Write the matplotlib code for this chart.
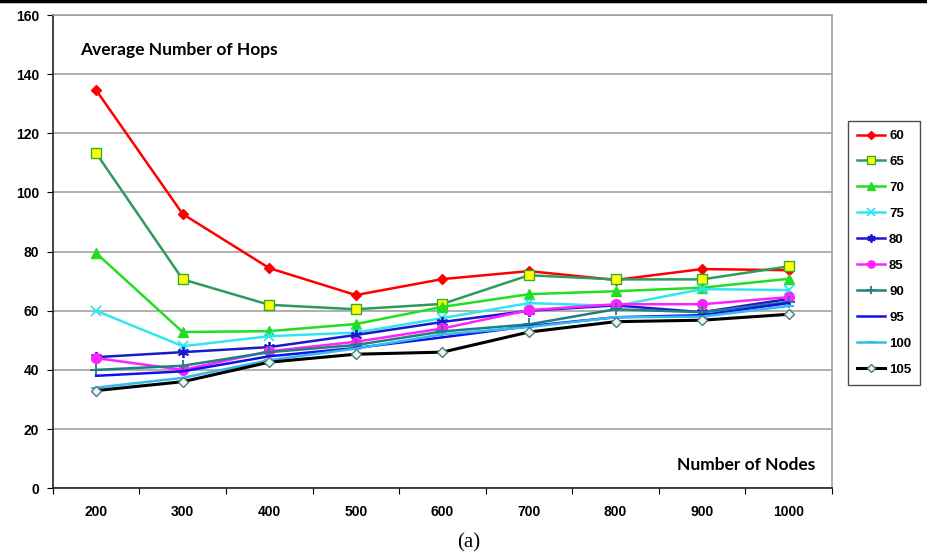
import matplotlib
matplotlib.use("Agg")
import matplotlib.pyplot as plt
from matplotlib.lines import Line2D

# number of nodes on the x axis
nodes = ["200", "300", "400", "500", "600", "700", "800", "900", "1000"]

# average hop count, one list per series
s60 = [134.6, 92.7, 74.4, 65.3, 70.7, 73.4, 70.4, 74.1, 73.7]
s65 = [113.3, 70.6, 62.0, 60.5, 62.3, 72.0, 70.6, 70.6, 75.0]
s70 = [79.5, 52.8, 53.1, 55.5, 61.3, 65.6, 66.6, 67.8, 70.8]
s75 = [60.0, 48.0, 51.4, 52.6, 57.5, 62.6, 61.6, 67.3, 67.0]
s80 = [44.3, 46.0, 47.7, 51.8, 56.2, 60.0, 61.8, 59.5, 64.0]
s85 = [44.0, 40.0, 46.3, 49.5, 54.0, 60.2, 62.2, 62.2, 64.6]
s90 = [40.0, 41.4, 46.0, 48.4, 53.0, 55.4, 60.5, 59.5, 63.0]
s95 = [38.0, 39.5, 44.6, 47.4, 51.0, 54.8, 57.8, 58.5, 62.6]
s100 = [34.0, 37.3, 43.3, 47.2, 52.0, 54.5, 57.8, 58.0, 61.6]
s105 = [33.0, 36.0, 42.6, 45.3, 46.0, 52.8, 56.3, 56.8, 58.8]

series = [
    ("60", s60, dict(color="#ff0000", marker="D", ms=5, mfc="#ff0000", mec="#ff0000")),
    ("65", s65, dict(color="#2e9a5c", marker="s", ms=7, mfc="#ffff00", mec="#33aa33")),
    ("70", s70, dict(color="#22dd22", marker="^", ms=7, mfc="#22dd22", mec="#22dd22")),
    ("75", s75, dict(color="#33e5f0", marker="x", ms=7, mew=1.3, mfc="#33e5f0", mec="#33e5f0")),
    ("80", s80, dict(color="#1a1acc", marker=(6, 2, 0), ms=8, mew=1.3, mec="#1a1acc")),
    ("85", s85, dict(color="#ff22ff", marker="o", ms=7, mfc="#ff22ff", mec="#ff22ff")),
    ("90", s90, dict(color="#1e8080", marker="+", ms=8, mew=1.3, mfc="#1e8080", mec="#1e8080")),
    ("95", s95, dict(color="#1010ee", marker="None")),
    ("100", s100, dict(color="#33bbee", marker="_", ms=7, mew=1.5, mec="#33bbee")),
    ("105", s105, dict(color="#000000", marker="D", ms=5, mfc="#e8f8f8", mec="#557777", lw=2.2)),
]

fig = plt.figure(figsize=(9.27, 5.56), dpi=100)
ax = fig.add_axes([0.057, 0.122, 0.8405, 0.851])

x = range(len(nodes))
handles = []
for name, vals, st in series:
    lw = st.pop("lw", 1.8)
    h, = ax.plot(x, vals, lw=lw, label=name, zorder=3, **st)
    handles.append(h)

ax.set_xlim(-0.5, len(nodes) - 0.5)
ax.set_ylim(0, 160)
ax.set_yticks(range(0, 161, 20))
ax.set_yticklabels([str(v) for v in range(0, 161, 20)],
                   fontfamily="Liberation Sans", fontweight="bold", fontsize=10)
# category labels in the middle, tick marks between the categories
ax.set_xticks([i + 0.5 for i in range(-1, len(nodes))])
ax.set_xticklabels([])
ax.set_xticks(list(x), minor=True)
ax.set_xticklabels(nodes, minor=True, fontfamily="Liberation Sans",
                   fontweight="bold", fontsize=10)
ax.tick_params(axis="x", which="minor", length=0, pad=12)
ax.tick_params(axis="x", which="major", length=4, direction="out")
ax.tick_params(axis="y", length=4, direction="out", pad=6)

ax.grid(axis="y", color="#9a9a9a", lw=1.1)
ax.set_axisbelow(True)
for side in ["top", "right"]:
    ax.spines[side].set_color("#9a9a9a")
    ax.spines[side].set_linewidth(1.1)
for side in ["left", "bottom"]:
    ax.spines[side].set_color("#222222")
    ax.spines[side].set_linewidth(1.2)

ax.text(0.035, 0.925, "Average Number of Hops", transform=ax.transAxes,
        fontfamily="Lato", fontweight="bold", fontsize=12.5, va="center")
ax.text(0.978, 0.048, "Number of Nodes", transform=ax.transAxes,
        fontfamily="Lato", fontweight="bold", fontsize=12.5, va="center", ha="right")

leg = fig.legend(handles=handles, loc="upper left", bbox_to_anchor=(0.915, 0.783),
                 frameon=True, fancybox=False, edgecolor="#222222",
                 prop=dict(family="Liberation Sans", weight="bold", size=9.5),
                 handlelength=2.1, handletextpad=0.3, labelspacing=1.04,
                 borderpad=0.7, borderaxespad=0, markerscale=0.75)
leg.get_frame().set_linewidth(1.0)

fig.text(0.506, 0.023, "(a)", fontfamily="Liberation Serif", fontsize=15, ha="center", va="center")
fig.add_artist(Line2D([0, 1], [0.998, 0.998], color="black", lw=2.5, transform=fig.transFigure))

fig.savefig("out.png", dpi=100)
